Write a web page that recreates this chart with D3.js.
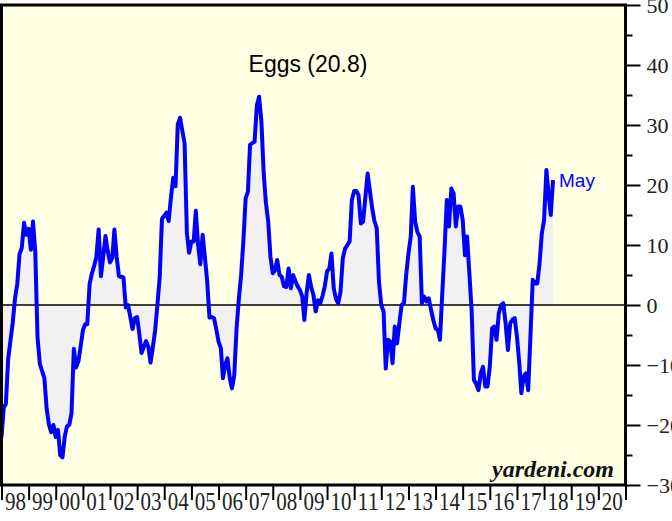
<!DOCTYPE html>
<html lang="en">
<head>
    <meta charset="UTF-8">
    <title>Eggs</title>
    <script src="https://d3js.org/d3.v7.min.js"></script>
    <style>
        body { margin: 0; background: white; }
        .axis-right text { font-family: "Liberation Serif", serif; font-size: 22px; fill: #222; }
        .axis-bottom text { font-family: "Liberation Serif", serif; font-size: 25px; fill: #222; }
        .axis-right path, .axis-bottom path { display: none; }
        .axis-right line, .axis-bottom line { stroke: black; stroke-width: 2; }
    </style>
</head>
<body>
    <svg width="672" height="521"></svg>
    <script>
        // monthly values, Jan 1998 .. May 2018
        var startYear = 1998;
        var values = [
            -22, -17, -16.5, -9, -6, -3, 1, 3.5, 8.5, 9.5, 13.7, 11.7,
            12.7, 9.2, 13.9, 8.8, -5.4, -9.8, -11, -12.2, -17.3, -19.9, -21.2, -20,
            -22, -20.8, -25, -25.4, -22, -20.2, -20, -18, -7.3, -10.4, -9.4, -7,
            -4.2, -3.2, -3.2, 3.5, 5.2, 6.5, 8, 12.6, 4.8, 8, 11.5, 9,
            7.1, 7.9, 12.6, 8, 4.8, 4.7, 4.6, -0.4, 0, -2, -4, -2.2,
            -2, -5, -8, -7, -6, -7, -9.6, -7, -4.2, 0, 4.7, 14.3,
            14.9, 15.4, 14, 18, 21.2, 19.8, 30.1, 31.2, 29, 27, 12, 8.7,
            10.6, 10.6, 15.7, 10, 6.8, 11.7, 8, 4, -2.1, -2, -2.2, -4,
            -6.1, -7.2, -12.2, -10, -8.9, -12.2, -13.9, -11.7, -3.9, 1, 5, 10.6,
            17.8, 18.9, 26.7, 27, 27.2, 33.3, 34.7, 30.6, 22, 17, 13.9, 8,
            5.3, 5.8, 7.5, 5, 4.7, 3.1, 3, 6.1, 2.8, 5, 4, 3.1,
            2.5, 1.4, -2.5, 2, 5, 3, 1.7, -1.1, 0.8, 0.3, 1.5, 3.1,
            5.6, 6.1, 8.6, 2.8, 1, 0.3, 2.2, 7.8, 9.4, 10, 10.6, 17.5,
            19, 19, 18.3, 13.6, 13.9, 18, 21.9, 19, 16.1, 14, 12.8, 3.9,
            0, -1.1, -10.6, -5.8, -6.1, -9.7, -3.6, -6.4, -3, 0, 0.3, 5,
            8.6, 11.4, 19.7, 13.9, 12.2, 11.4, 0.3, 1.4, 0.6, 1.1, -0.8, -2.5,
            -3.9, -4.2, -5.8, 1.9, 9, 17.5, 13.1, 19.4, 18.6, 13.1, 16.4, 16.4,
            14.2, 8.3, 11.4, 5.3, -0.8, -12.5, -13.1, -14.2, -11.4, -10.3, -13.6, -13.6,
            -10.3, -3.9, -3.6, -5.8, -1.4, 0, 0.3, -3.1, -7.5, -3.1, -2.4, -2.2,
            -5.3, -9.7, -14.7, -11.9, -11.4, -14.2, -5.3, 4.2, 3.6, 3.6, 6.9, 11.9,
            14.2, 22.5, 18.6, 15, 20.8
        ];
        var yearLabels = ["98","99","00","01","02","03","04","05","06","07","08","09",
                          "10","11","12","13","14","15","16","17","18","19","20"];
        var yMajorTicks = [-30, -20, -10, 0, 10, 20, 30, 40, 50];
        var yMinorTicks = [-25, -15, -5, 5, 15, 25, 35, 45];
        var title = "Eggs (20.8)";
        var lastLabel = "May";

        var svg = d3.select("svg");
        var plotL = 1.5, plotR = 625.5, plotT = 5, plotB = 485;

        var data = values.map(function(v, i) {
            return { date: new Date(startYear, i, 1), value: v };
        });

        var x = d3.scaleTime()
            .domain([new Date(startYear, 0, 1), new Date(startYear + yearLabels.length, 0, 1)])
            .range([plotL, plotR]);
        var y = d3.scaleLinear().domain([-30, 50]).range([plotB, plotT]);

        svg.append("rect")
            .attr("x", plotL).attr("y", plotT)
            .attr("width", plotR - plotL).attr("height", plotB - plotT)
            .attr("fill", "#ffffe3");

        svg.append("path")
            .datum(data)
            .attr("fill", "#f1f1f1")
            .attr("d", d3.area()
                .x(function(d) { return x(d.date); })
                .y0(y(0))
                .y1(function(d) { return y(d.value); }));

        svg.append("line")
            .attr("x1", plotL).attr("x2", plotR)
            .attr("y1", y(0)).attr("y2", y(0))
            .attr("stroke", "#000").attr("stroke-width", 1.3);

        svg.append("path")
            .datum(data)
            .attr("fill", "none")
            .attr("stroke", "#0000ff")
            .attr("stroke-width", 4)
            .attr("stroke-linejoin", "round")
            .attr("d", d3.line()
                .x(function(d) { return x(d.date); })
                .y(function(d) { return y(d.value); }));

        // right axis
        svg.append("g")
            .attr("class", "axis-right")
            .attr("transform", "translate(" + plotR + ",0)")
            .call(d3.axisRight(y).tickValues(yMinorTicks).tickSize(7).tickFormat(""));
        svg.append("g")
            .attr("class", "axis-right")
            .attr("transform", "translate(" + plotR + ",0)")
            .call(d3.axisRight(y).tickValues(yMajorTicks).tickSize(15).tickPadding(6));

        // bottom axis: year boundaries + labels in the middle of each year
        var yearStarts = d3.range(yearLabels.length + 1).map(function(i) { return new Date(startYear + i, 0, 1); });
        var yearMids = d3.range(yearLabels.length).map(function(i) { return new Date(startYear + i, 6, 1); });
        svg.append("g")
            .attr("class", "axis-bottom")
            .attr("transform", "translate(0," + plotB + ")")
            .call(d3.axisBottom(x).tickValues(yearStarts).tickSize(15).tickFormat(""));
        svg.append("g")
            .attr("class", "axis-bottom")
            .attr("transform", "translate(0," + plotB + ")")
            .call(d3.axisBottom(x).tickValues(yearMids).tickSize(0).tickPadding(7)
                .tickFormat(function(d, i) { return yearLabels[i]; }))
            .selectAll("text")
            .attr("textLength", 21)
            .attr("lengthAdjust", "spacingAndGlyphs");

        // frame
        svg.append("rect")
            .attr("x", plotL).attr("y", plotT)
            .attr("width", plotR - plotL).attr("height", plotB - plotT)
            .attr("fill", "none")
            .attr("stroke", "black").attr("stroke-width", 3);

        svg.append("text")
            .attr("x", 308).attr("y", 72)
            .attr("text-anchor", "middle")
            .attr("font-family", "Liberation Sans, Arial, sans-serif")
            .attr("font-size", 23)
            .attr("fill", "black")
            .text(title);

        var last = data[data.length - 1];
        svg.append("text")
            .attr("x", x(last.date) + 6).attr("y", y(last.value) + 7)
            .attr("font-family", "Liberation Sans, Arial, sans-serif")
            .attr("font-size", 19)
            .attr("fill", "#0000ff")
            .text(lastLabel);

        svg.append("text")
            .attr("x", 614).attr("y", 477)
            .attr("text-anchor", "end")
            .attr("font-family", "Liberation Serif, serif")
            .attr("font-size", 24)
            .attr("font-weight", "bold")
            .attr("font-style", "italic")
            .attr("fill", "#111")
            .text("yardeni.com");
    </script>
</body>
</html>
